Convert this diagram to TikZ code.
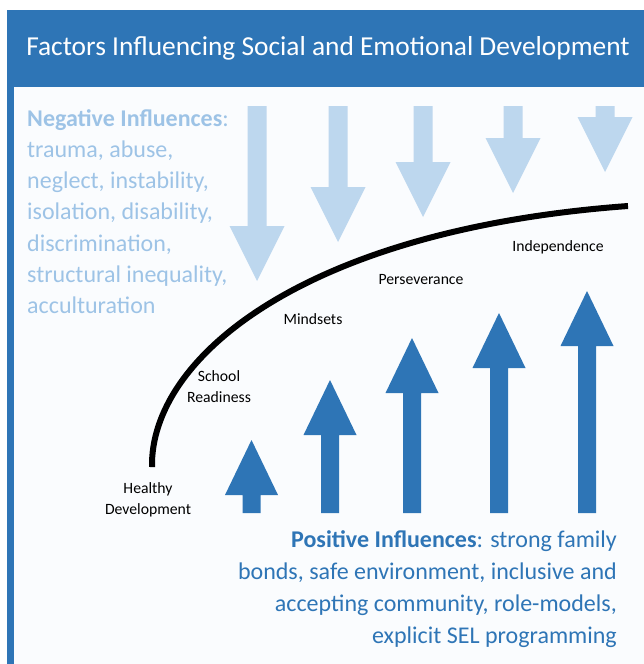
\documentclass[tikz,border=0pt]{standalone}
\usepackage{fontspec}
\setmainfont{Carlito}
\definecolor{hdrblue}{HTML}{2E75B6}
\definecolor{panel}{HTML}{FAFCFE}
\definecolor{lightarrow}{HTML}{BDD7EE}
\definecolor{negtext}{HTML}{9DC3E6}
\tikzset{
  downarrow/.style={fill=lightarrow},
  uparrow/.style={fill=hdrblue},
  stage/.style={font=\fontsize{15.7}{21}\selectfont, text=black, align=center, inner sep=0pt},
  growth/.style={line width=6pt, black, line cap=butt},
}
\begin{document}
\begin{tikzpicture}[x=1pt,y=-1pt]
\useasboundingbox (0,0) rectangle (644,664);
\fill[white] (0,0) rectangle (644,664);
\fill[hdrblue] (7,10) rectangle (644,664);
\fill[panel] (14,87) rectangle (644,664);
\node[text=white, font=\fontsize{27.4}{32}\selectfont, inner sep=0pt] (title) at (328,48) {Factors Influencing Social and Emotional Development};
% down arrows
\foreach \cx/\hs in {257/226, 338/187, 423/162, 513/138, 605/117}{
  \fill[downarrow] (\cx-9.5,106) -- (\cx+9.5,106) -- (\cx+9.5,\hs) -- (\cx+27.5,\hs) -- (\cx,\hs+55) -- (\cx-27.5,\hs) -- (\cx-9.5,\hs) -- cycle;
}
% up arrows
\foreach \cx/\hb in {251.5/495, 330/435, 412/393, 499/368, 587/346}{
  \fill[uparrow] (\cx-9,513) -- (\cx+9,513) -- (\cx+9,\hb) -- (\cx+26.5,\hb) -- (\cx,\hb-55) -- (\cx-26.5,\hb) -- (\cx-9,\hb) -- cycle;
}
% growth curve
\coordinate (cstart) at (152,467);
\coordinate (cend) at (628,206);
\draw[growth] (cstart) .. controls (150,360) and (300,230) .. (cend);
% negative text
\node[anchor=north west, align=left, text=negtext, inner sep=0pt, font=\fontsize{24}{31.3}\selectfont] (neg) at (27,109) {\textbf{Negative Influences}:\\trauma, abuse,\\neglect, instability,\\isolation, disability,\\discrimination,\\structural inequality,\\acculturation};
% stage labels
\node[stage] (healthy) at (148,499.5) {Healthy\\Development};
\node[stage] (school) at (219,387) {School\\Readiness};
\node[stage] (mind) at (313,319) {Mindsets};
\node[stage] (pers) at (421,280) {Perseverance};
\node[stage] (indep) at (558,247) {Independence};
% positive text
\node[anchor=north east, align=right, text=hdrblue, inner sep=0pt, font=\fontsize{24}{32}\selectfont] (pos) at (617,530) {\textbf{Positive Influences}: strong family\\bonds, safe environment, inclusive and\\accepting community, role-models,\\explicit SEL programming};
\end{tikzpicture}
\end{document}
